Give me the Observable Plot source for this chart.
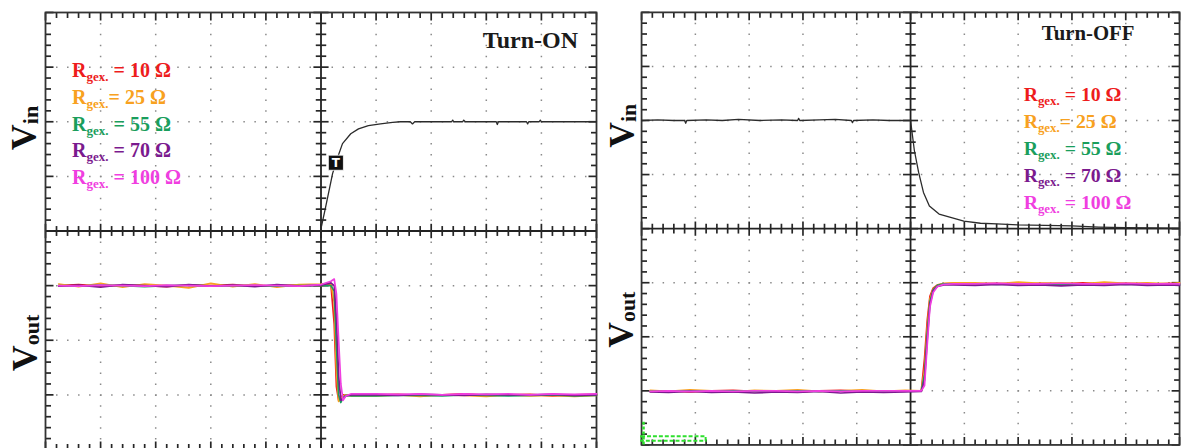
<!DOCTYPE html>
<html><head><meta charset="utf-8">
<script src="https://cdn.jsdelivr.net/npm/d3@7"></script>
<script src="https://cdn.jsdelivr.net/npm/@observablehq/plot@0.6"></script>
<style>
html,body{margin:0;padding:0;background:#fff;overflow:hidden;}
#wrap{position:relative;width:1184px;height:448px;overflow:hidden;background:#fff;}
#left{position:absolute;left:0;top:0;}
#right{position:absolute;left:600px;top:0;}
</style></head><body>
<div id="wrap"><div id="left"></div><div id="right"></div></div>
<script>
// ---- Series (gate resistances) ----
const seriesNames = ["10 Ω", "25 Ω", "55 Ω", "70 Ω", "100 Ω"];
const seriesColors = ["#ee1c1c", "#f8a120", "#1a9e5c", "#7b1a8e", "#f03ee0"];
const legendLabels = [" = 10 Ω", "= 25 Ω", " = 55 Ω", " = 70 Ω", " = 100 Ω"];
const channelSubs = ["in", "out"];
const panelTitles = ["Turn-ON", "Turn-OFF"];

// ---- Turn-ON: Vin (time in div, volts in div) ----
const onVinT = [4.99, 5.08, 5.21, 5.30, 5.39, 5.54, 5.68, 5.86, 6.08, 6.30, 6.44, 6.62, 6.66, 6.70, 7.10, 7.37, 7.39, 7.41, 7.57, 7.59, 7.62, 8.00, 8.18, 8.20, 8.22, 8.73, 8.75, 8.77, 8.96, 8.98, 9.00, 9.40, 10.0];
const onVin  = [0.00, 0.42, 1.05, 1.34, 1.60, 1.78, 1.87, 1.93, 1.96, 1.99, 2.00, 2.00, 1.96, 2.00, 2.00, 2.00, 2.03, 2.00, 2.00, 2.03, 2.00, 2.00, 2.00, 1.95, 2.00, 2.00, 1.96, 2.00, 2.00, 2.03, 2.00, 2.00, 2.00];
const onTrigger = [{t: 5.27, v: 1.25}];

// ---- Turn-ON: Vout ----
const onVoutT = [0.24, 0.6, 1.0, 1.4, 1.8, 2.2, 2.6, 3.0, 3.4, 3.8, 4.2, 4.6, 5.0, 5.18, 5.24, 5.28, 5.32, 5.36, 5.40, 5.45, 5.55, 6.0, 6.4, 6.8, 7.2, 7.6, 8.0, 8.4, 8.8, 9.2, 9.6, 10.0];
const onVout10  = [3.00, 3.02, 2.99, 3.01, 3.00, 2.98, 3.01, 3.00, 3.02, 2.99, 3.00, 3.01, 3.00, 3.02, 2.30, 1.15, 0.90, 0.95, 1.00, 0.99, 1.00, 1.00, 1.01, 0.99, 1.00, 1.02, 0.99, 1.00, 1.01, 0.98, 1.00, 1.01];
const onVout25  = [3.03, 2.98, 3.04, 2.97, 3.03, 3.00, 2.96, 3.04, 2.98, 3.03, 2.97, 3.02, 3.03, 3.04, 2.70, 1.45, 0.88, 0.93, 0.98, 1.00, 0.98, 0.98, 1.00, 0.97, 1.00, 0.99, 0.97, 1.00, 0.98, 0.99, 0.97, 0.99];
const onVout55  = [3.00, 2.99, 3.01, 3.00, 2.98, 3.00, 3.01, 2.99, 3.00, 3.00, 2.99, 3.00, 3.00, 3.00, 2.90, 1.90, 1.00, 0.86, 0.95, 0.99, 0.98, 0.98, 0.99, 0.99, 0.98, 1.00, 0.99, 0.98, 0.99, 1.00, 0.98, 0.99];
const onVout70  = [2.99, 3.01, 2.97, 3.02, 3.00, 2.98, 3.02, 2.99, 3.01, 2.98, 3.02, 2.99, 3.01, 3.05, 3.00, 2.40, 1.35, 0.90, 0.93, 0.98, 1.00, 1.00, 0.99, 1.01, 1.00, 0.99, 1.01, 1.00, 1.00, 1.01, 0.99, 1.00];
const onVout100 = [3.00, 2.99, 3.01, 3.00, 2.99, 3.01, 3.00, 2.99, 3.00, 3.01, 3.00, 2.99, 3.02, 3.08, 3.12, 2.85, 2.00, 1.20, 0.90, 0.98, 1.02, 1.02, 1.01, 1.02, 1.00, 1.02, 1.01, 1.02, 1.00, 1.02, 1.01, 1.02];

// ---- Turn-OFF: Vin ----
const offVinT = [0, 0.3, 0.6, 0.8, 0.82, 0.84, 1.2, 1.5, 1.8, 2.2, 2.6, 2.9, 2.92, 2.94, 3.3, 3.6, 3.9, 3.92, 3.94, 4.3, 4.6, 5.0, 5.07, 5.15, 5.24, 5.35, 5.53, 5.81, 5.99, 6.3, 6.6, 7.0, 7.5, 8.0, 8.5, 9.0, 10.0];
const offVin  = [2.00, 2.01, 2.00, 2.00, 1.95, 2.00, 2.01, 2.00, 2.02, 2.00, 2.01, 2.00, 2.04, 2.00, 2.01, 2.02, 2.00, 1.96, 2.00, 2.01, 2.00, 2.00, 1.45, 1.04, 0.67, 0.42, 0.27, 0.19, 0.14, 0.10, 0.09, 0.07, 0.06, 0.05, 0.03, 0.02, 0.01];

// ---- Turn-OFF: Vout ----
const offVoutT = [0.16, 0.5, 0.9, 1.3, 1.7, 2.1, 2.5, 2.9, 3.3, 3.7, 4.1, 4.5, 4.9, 5.2, 5.26, 5.31, 5.36, 5.42, 5.5, 5.62, 5.8, 6.2, 6.6, 7.0, 7.4, 7.8, 8.2, 8.6, 9.0, 9.4, 9.8, 10.0];
const offVout10  = [0.99, 1.00, 0.98, 1.00, 1.01, 0.99, 1.00, 0.98, 1.00, 1.01, 0.99, 1.00, 1.00, 1.00, 1.60, 2.30, 2.75, 2.90, 2.96, 2.98, 2.99, 2.98, 2.99, 2.97, 2.99, 2.98, 3.00, 2.98, 2.99, 2.97, 2.99, 2.98];
const offVout25  = [1.01, 0.99, 1.02, 1.00, 0.98, 1.01, 1.00, 1.02, 0.99, 1.00, 1.02, 0.99, 1.01, 1.00, 1.40, 2.15, 2.70, 2.88, 2.95, 2.99, 3.00, 3.00, 2.98, 3.01, 2.99, 3.00, 2.98, 3.01, 2.99, 3.00, 2.98, 3.00];
const offVout55  = [0.99, 0.99, 1.00, 0.99, 1.00, 0.99, 0.99, 1.00, 0.99, 1.00, 0.99, 0.99, 1.00, 1.00, 1.30, 2.05, 2.65, 2.87, 2.95, 2.98, 2.98, 2.98, 2.97, 2.98, 2.98, 2.97, 2.98, 2.98, 2.97, 2.98, 2.98, 2.97];
const offVout70  = [0.98, 0.97, 0.99, 0.97, 0.98, 0.96, 0.98, 0.97, 0.99, 0.96, 0.98, 0.97, 0.98, 0.99, 1.20, 1.95, 2.60, 2.85, 2.93, 2.96, 2.96, 2.95, 2.97, 2.95, 2.96, 2.94, 2.96, 2.95, 2.97, 2.95, 2.96, 2.95];
const offVout100 = [0.99, 1.00, 0.99, 1.00, 0.99, 1.00, 1.00, 0.99, 1.00, 0.99, 1.00, 1.00, 1.00, 1.00, 1.10, 1.85, 2.55, 2.82, 2.93, 2.97, 2.98, 2.98, 2.99, 2.98, 2.98, 2.99, 2.98, 2.98, 2.99, 2.98, 2.98, 2.98];
const offMarker = [{x1: 0, x2: 1.2, y1: 0.07, y2: 0.15}];

// ---- layout / style constants ----
const vinPosition = 4;   // Vin channel sits in the upper 4 divisions
const serif = "'Liberation Serif','Times New Roman',serif";

function graticuleTicks(ux, uy) {
  // short tick segments (in division units) along the border and the centre axes
  const segs = [];
  for (let i = 0; i <= 50; i++) {
    const x = i / 5, px = i % 5 === 0 ? 8 : 5.5;
    segs.push({x1: x, x2: x, y1: 8, y2: 8 - px * uy});
    segs.push({x1: x, x2: x, y1: 0, y2: px * uy});
    segs.push({x1: x, x2: x, y1: 4 - px * 0.9 * uy, y2: 4 + px * 0.9 * uy});
  }
  for (let i = 0; i <= 40; i++) {
    const y = i / 5, px = i % 5 === 0 ? 8 : 5.5;
    segs.push({x1: 0, x2: px * ux, y1: y, y2: y});
    segs.push({x1: 10, x2: 10 - px * ux, y1: y, y2: y});
    segs.push({x1: 5 - px * 0.95 * ux, x2: 5 + px * 0.95 * ux, y1: y, y2: y});
  }
  return segs;
}

function panel(cfg) {
  const {width, marginLeft, marginRight, vinT, vin, voutT, vout} = cfg;
  const height = 450, marginTop = 12, marginBottom = 1;
  const innerW = width - marginLeft - marginRight, innerH = height - marginTop - marginBottom;
  const ux = 10 / innerW, uy = 8 / innerH;
  const vinRows = vinT.map((t, i) => ({t, v: vin[i] + vinPosition}));
  const voutRows = seriesNames.flatMap((s, k) => voutT.map((t, i) => ({t, v: vout[k][i], s})));
  const grid = {stroke: "#8a8a8a", strokeWidth: 1.5};
  const marks = [
    Plot.ruleX([1, 2, 3, 4, 6, 7, 8, 9], {...grid, strokeDasharray: `1.5,${innerH / 40 - 1.5}`}),
    Plot.ruleY([1, 2, 3, 5, 6, 7], {...grid, strokeDasharray: `1.5,${innerW / 50 - 1.5}`}),
    Plot.ruleX([5], {stroke: "#222", strokeWidth: 1.8}),
    Plot.ruleY([4], {stroke: "#222", strokeWidth: 1.8}),
    Plot.link(graticuleTicks(ux, uy), {x1: "x1", y1: "y1", x2: "x2", y2: "y2", stroke: "#262626", strokeWidth: 1.7}),
    Plot.frame({stroke: "#333", strokeWidth: 1.8}),
    // traces
    Plot.line(vinRows, {x: "t", y: "v", stroke: "#2b2b2b", strokeWidth: 1.3}),
    Plot.line(voutRows, {x: "t", y: "v", z: "s", stroke: "s", strokeWidth: 1.7})
  ];
  if (cfg.trigger) {
    marks.push(Plot.dot(cfg.trigger, {x: "t", y: d => d.v + vinPosition, symbol: "square", r: 8.5, fill: "#111", stroke: "#fff", strokeWidth: 0.8}));
    marks.push(Plot.text(cfg.trigger, {x: "t", y: d => d.v + vinPosition, text: () => "T", fill: "#fff", fontWeight: "bold", fontSize: 12, fontFamily: "DejaVu Sans"}));
  }
  if (cfg.marker) {
    marks.push(Plot.rect(cfg.marker, {x1: "x1", x2: "x2", y1: "y1", y2: "y2", fill: "none", stroke: "#2ee02e", strokeWidth: 2, strokeDasharray: "4,2"}));
    marks.push(Plot.ruleX(cfg.marker, {x: d => d.x1 + 2 * ux, y1: 0, y2: 0.42, stroke: "#2ee02e", strokeWidth: 2.5, strokeDasharray: "3,2"}));
  }
  const svg = Plot.plot({
    width, height, marginLeft, marginRight, marginTop, marginBottom,
    style: {background: "transparent", overflow: "visible"},
    x: {domain: [0, 10], axis: null},
    y: {domain: [0, 8], axis: null},
    color: {domain: seriesNames, range: seriesColors},
    marks
  });
  addLabels(svg, cfg);
  return svg;
}

function addLabels(svg, cfg) {
  const g = d3.select(svg);
  cfg.vlabels.forEach((lab, i) => {
    const t = g.append("text")
      .attr("transform", `translate(${lab.x},${lab.y}) rotate(-90)`)
      .attr("text-anchor", "middle").attr("font-family", serif)
      .attr("font-weight", "bold").attr("fill", "#111");
    t.append("tspan").attr("font-size", 36).text("V");
    t.append("tspan").attr("font-size", 22).attr("dy", 2).text(channelSubs[i]);
  });
  g.append("text").attr("x", cfg.title.x).attr("y", cfg.title.y)
    .attr("text-anchor", "end").attr("font-family", serif).attr("font-weight", "bold")
    .attr("font-size", cfg.title.size).attr("fill", "#1a1a1a").text(cfg.title.text);
  seriesNames.forEach((s, i) => {
    const t = g.append("text").attr("x", cfg.legend.x).attr("y", cfg.legend.y + i * cfg.legend.dy)
      .attr("text-anchor", "start")
      .attr("font-family", serif).attr("font-weight", "bold").attr("font-size", 20)
      .attr("fill", seriesColors[i]).style("white-space", "pre");
    t.append("tspan").text("R");
    t.append("tspan").attr("font-size", 13).attr("dy", 4).text("gex.");
    t.append("tspan").attr("dy", -4).text(legendLabels[i]);
  });
}

document.getElementById("left").appendChild(panel({
  width: 600, marginLeft: 45, marginRight: 4,
  vinT: onVinT, vin: onVin, voutT: onVoutT,
  vout: [onVout10, onVout25, onVout55, onVout70, onVout100],
  trigger: onTrigger,
  vlabels: [{x: 36, y: 128}, {x: 37, y: 343}],
  title: {text: panelTitles[0], x: 578, y: 48, size: 24},
  legend: {x: 72, y: 77, dy: 26.8}
}));
document.getElementById("right").appendChild(panel({
  width: 590, marginLeft: 41.5, marginRight: 5,
  vinT: offVinT, vin: offVin, voutT: offVoutT,
  vout: [offVout10, offVout25, offVout55, offVout70, offVout100],
  marker: offMarker,
  vlabels: [{x: 34, y: 127}, {x: 33, y: 323}],
  title: {text: panelTitles[1], x: 540, y: 40, size: 21},
  legend: {x: 428, y: 102, dy: 27.2}
}));
</script></body></html>
